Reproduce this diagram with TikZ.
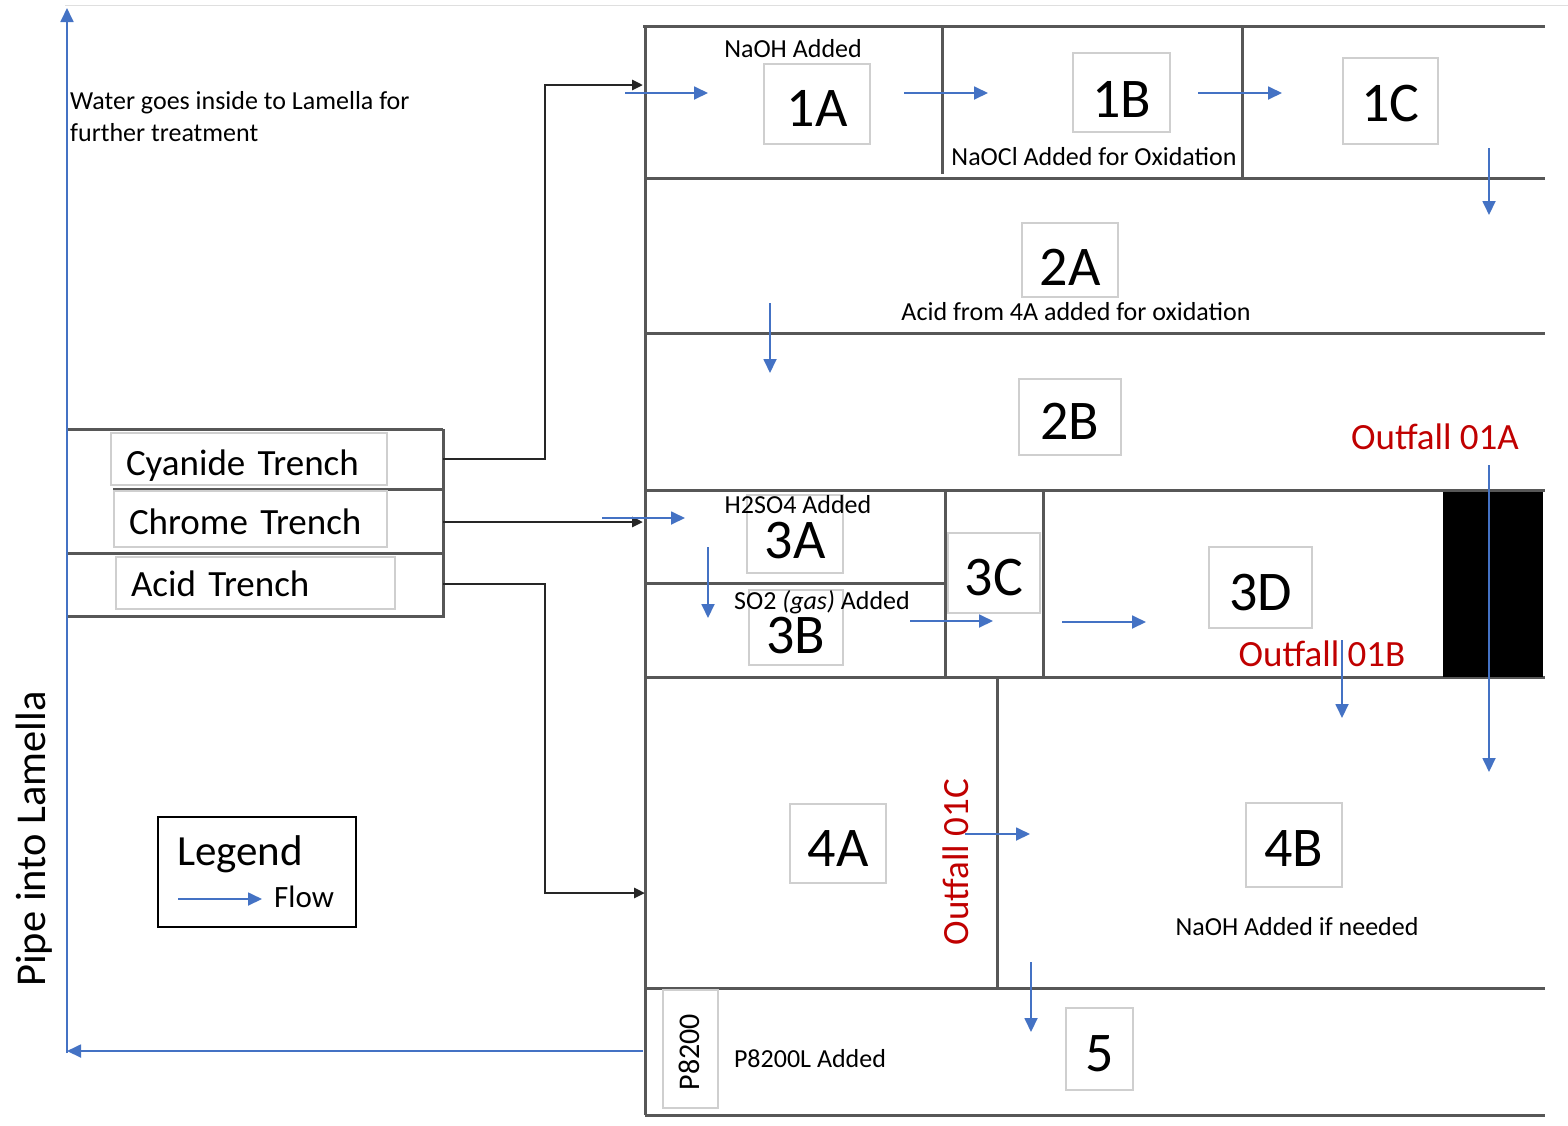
\documentclass[tikz,border=0pt]{standalone}
\usepackage{fontspec}
\setmainfont{Carlito}
\usetikzlibrary{arrows.meta}
\definecolor{flowc}{HTML}{4472C4}
\definecolor{wallc}{HTML}{575757}
\definecolor{boxc}{HTML}{CFCFCF}
\definecolor{outc}{HTML}{C00000}
\begin{document}
\begin{tikzpicture}[x=1pt,y=-1pt,
  wall/.style={draw=wallc,line width=3pt},
  numbox/.style={draw=boxc,line width=1.2pt,inner sep=0pt,text height=45.4pt,text depth=0pt,font=\fontsize{56}{60}\selectfont},
  lbl/.style={inner sep=0pt,text height=16.4pt,text depth=0pt,font=\fontsize{26}{30}\selectfont},
  trench/.style={draw=boxc,line width=1.2pt,inner xsep=15pt,inner ysep=0pt,align=left,text depth=0pt,font=\fontsize{37}{40}\selectfont},
  outlbl/.style={inner sep=0pt,text=outc,text height=23.4pt,text depth=0pt,font=\fontsize{37}{40}\selectfont},
  flow/.style={draw=flowc,line width=1.8pt,-{Triangle[length=14pt,width=13pt]}},
  feed/.style={draw=black!85,line width=2.7pt,-{Triangle[length=11pt,width=10pt]}}
]
\useasboundingbox (0,0) rectangle (1568,1125);
\fill[white] (0,0) rectangle (1568,1125);
% faint top border
\draw[gray!25,line width=1pt] (65,5) -- (1568,5);

% ---- plant walls ----
\draw[wall] (643,26) -- (1545,26);
\draw[wall] (645,26) -- (645,1115);
\draw[wall] (645,178) -- (1545,178);
\draw[wall] (942,26) -- (942,174);
\draw[wall] (1242,26) -- (1242,178);
\draw[wall] (645,333) -- (1545,333);
\draw[wall] (645,490) -- (1545,490);
\draw[wall] (645,583) -- (945,583);
\draw[wall] (945,490) -- (945,676);
\draw[wall] (1043,490) -- (1043,676);
\draw[wall] (645,677) -- (1545,677);
\draw[wall] (997,677) -- (997,988);
\draw[wall] (645,988) -- (1545,988);
\draw[wall] (645,1115) -- (1545,1115);
\fill[black] (1443,492) rectangle (1543,677);

% ---- trench block ----
\draw[wall] (66,429) -- (443,429);
\draw[wall] (113,489) -- (443,489);
\draw[wall] (66,553) -- (443,553);
\draw[wall] (66,616) -- (445,616);
\draw[wall] (443,429) -- (443,616);
\node[trench,text width=246pt,minimum height=52pt,text height=33.4pt] (cyan) at (249,459) {Cyanide Trench};
\node[trench,text width=243pt,minimum height=56pt,text height=31.4pt] (chrome) at (250.5,519) {Chrome Trench};
\node[trench,text width=249pt,minimum height=52pt,text height=27.4pt] (acid) at (255.5,583) {Acid Trench};
\coordinate (cyR) at (443,459);
\coordinate (chR) at (443,522);
\coordinate (acR) at (443,584);
\coordinate (in1) at (643,85);
\coordinate (in3) at (643,522);
\coordinate (in4) at (645,893);
\draw[feed] (cyR) -- (545,459) -- (545,85) -- (in1);
\draw[feed] (chR) -- (in3);
\draw[feed] (acR) -- (545,584) -- (545,893) -- (in4);

% ---- numbered boxes ----
\node[numbox,minimum width=106pt,minimum height=80pt] (n1A) at (817,104) {1A};
\node[numbox,minimum width=97pt,minimum height=79pt,text height=50pt] (n1B) at (1121.5,92.5) {1B};
\node[numbox,minimum width=95pt,minimum height=86pt,text height=41pt] (n1C) at (1390.5,101) {1C};
\node[numbox,minimum width=96pt,minimum height=74pt,text height=50pt] (n2A) at (1070,260) {2A};
\node[numbox,minimum width=102pt,minimum height=76pt] (n2B) at (1070,417) {2B};
\node[numbox,minimum width=96pt,minimum height=78pt,text height=48pt] (n3A) at (795,534) {3A};
\node[numbox,minimum width=94pt,minimum height=75pt,text height=52pt] (n3B) at (796,627.5) {3B};
\node[numbox,minimum width=92pt,minimum height=80pt] (n3C) at (994,573) {3C};
\node[numbox,minimum width=103pt,minimum height=81pt] (n3D) at (1260.5,587.5) {3D};
\node[numbox,minimum width=96pt,minimum height=79pt] (n4A) at (838,843.5) {4A};
\node[numbox,minimum width=96pt,minimum height=84pt,text height=43pt] (n4B) at (1294,845) {4B};
\node[numbox,minimum width=67pt,minimum height=82pt] (n5) at (1099.5,1049) {5};
\node[draw=boxc,line width=1.2pt,minimum width=55pt,minimum height=118pt] (p8box) at (690.5,1049) {};
\node[inner sep=0pt,text height=19pt,text depth=0pt,rotate=90,font=\fontsize{30}{34}\selectfont] (p8) at (690,1052) {P8200};

% ---- labels ----
\node[lbl] (tNaOH) at (793,49) {NaOH Added};
\node[lbl] (tNaOCl) at (1094,157) {NaOCl Added for Oxidation};
\node[lbl] (tAcid4A) at (1076,312) {Acid from 4A added for oxidation};
\node[lbl] (tH2SO4) at (798,505) {H2SO4 Added};
\node[lbl] (tSO2) at (822,601) {SO2 \textit{(gas)} Added};
\node[lbl] (tP8200L) at (810,1059) {P8200L Added};
\node[lbl] (tNaOHif) at (1297,927) {NaOH Added if needed};
\node[lbl,anchor=west] (tWater1) at (70,101) {Water goes inside to Lamella for};
\node[lbl,anchor=west] (tWater2) at (70,133) {further treatment};
\node[inner sep=0pt,text height=26.9pt,text depth=0pt,rotate=90,font=\fontsize{42.5}{46}\selectfont] (tPipe) at (32,839) {Pipe into Lamella};
\node[outlbl] (o1A) at (1435,438) {Outfall 01A};
\node[outlbl] (o1B) at (1322,655) {Outfall 01B};
\node[outlbl,rotate=90] (o1C) at (957,862) {Outfall 01C};

% ---- legend ----
\node[draw=black,line width=2pt,minimum width=198pt,minimum height=110pt] (legend) at (257,872) {};
\node[inner sep=0pt,text height=27.2pt,text depth=0pt,anchor=west,font=\fontsize{43}{46}\selectfont] (tLegend) at (177,852) {Legend};
\node[inner sep=0pt,text height=19.6pt,text depth=0pt,anchor=west,font=\fontsize{31}{34}\selectfont] (tFlow) at (274,898) {Flow};
\coordinate (lgs) at (178,899);
\coordinate (lge) at (262,899);
\draw[flow] (lgs) -- (lge);

% ---- flow arrows ----
\coordinate (f1s) at (625,93);   \coordinate (f1e) at (708,93);
\coordinate (f2s) at (904,93);   \coordinate (f2e) at (988,93);
\coordinate (f3s) at (1198,93);  \coordinate (f3e) at (1282,93);
\coordinate (f4s) at (1489,148); \coordinate (f4e) at (1489,215);
\coordinate (f5s) at (770,303);  \coordinate (f5e) at (770,373);
\coordinate (f6s) at (602,518);  \coordinate (f6e) at (685,518);
\coordinate (f7s) at (708,547);  \coordinate (f7e) at (708,618);
\coordinate (f8s) at (910,621);  \coordinate (f8e) at (993,621);
\coordinate (f9s) at (1062,622); \coordinate (f9e) at (1146,622);
\coordinate (f10s) at (1489,465); \coordinate (f10e) at (1489,772);
\coordinate (f11s) at (1342,640); \coordinate (f11e) at (1342,718);
\coordinate (f12s) at (965,834);  \coordinate (f12e) at (1030,834);
\coordinate (f13s) at (1031,962); \coordinate (f13e) at (1031,1032);
\foreach \i in {1,...,13} {\draw[flow] (f\i s) -- (f\i e);}
\coordinate (ret1) at (643,1051);
\coordinate (ret2) at (67,1051);
\coordinate (ret3) at (67,1053);
\coordinate (ret4) at (67,8);
\draw[flow] (ret1) -- (ret2);
\draw[flow] (ret3) -- (ret4);
\end{tikzpicture}
\end{document}
